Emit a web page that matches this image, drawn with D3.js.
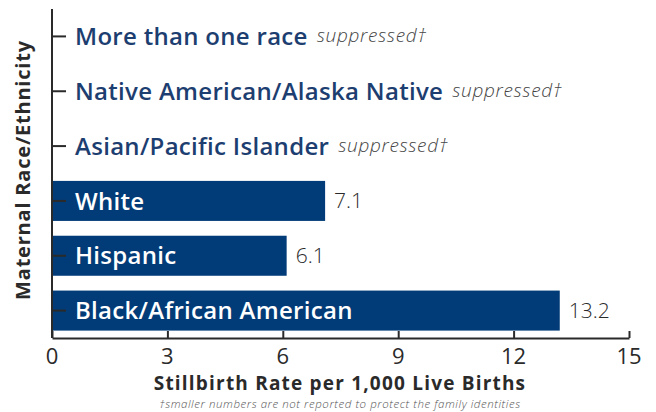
<!DOCTYPE html>
<html>
<head>
<meta charset="utf-8">
<script src="https://cdn.jsdelivr.net/npm/d3@7"></script>
<style>
  body { margin: 0; background: #fff; }
  svg text { font-family: "Open Sans", "Noto Sans", sans-serif; }
</style>
</head>
<body>
<svg id="chart" width="656" height="412"></svg>
<script>
// data
var categories = ["More than one race", "Native American/Alaska Native", "Asian/Pacific Islander",
                  "White", "Hispanic", "Black/African American"];
var rates = [null, null, null, 7.1, 6.1, 13.2];   // null = suppressed
var xTicks = [0, 3, 6, 9, 12, 15];

var svg = d3.select("#chart");
var barColor = "#023c78",
    navy = "#1d3e70",
    dark = "#2a2a2a";

var x = d3.scaleLinear().domain([0, 15]).range([52, 629]);
var y = d3.scaleBand().domain(categories).range([9, 338]).paddingInner(0.27).paddingOuter(0.135);

var rows = categories.map(function(c, i){ return {cat: c, v: rates[i]}; });

// bars
svg.selectAll("rect.bar")
  .data(rows.filter(function(d){ return d.v != null; }))
  .enter()
  .append("rect")
    .attr("class", "bar")
    .attr("x", x(0))
    .attr("y", function(d){ return y(d.cat); })
    .attr("width", function(d){ return x(d.v) - x(0); })
    .attr("height", y.bandwidth())
    .style("fill", barColor);

// category labels (white inside bars, navy for suppressed rows)
svg.selectAll("text.cat")
  .data(rows)
  .enter()
  .append("text")
    .attr("class", "cat")
    .attr("x", 75)
    .attr("y", function(d){ return y(d.cat) + y.bandwidth()/2; })
    .attr("dy", "0.36em")
    .style("font-size", "24px")
    .style("letter-spacing", "0.3px")
    .style("font-weight", 600)
    .style("fill", function(d){ return d.v == null ? navy : "#fff"; })
    .text(function(d){ return d.cat; })
    .each(function(d){ d.labelEnd = 75 + this.getComputedTextLength(); });

// value labels / suppressed notes
svg.selectAll("text.val")
  .data(rows)
  .enter()
  .append("text")
    .attr("class", "val")
    .attr("x", function(d){ return d.v == null ? d.labelEnd + 9 : x(d.v) + 9; })
    .attr("y", function(d){ return y(d.cat) + y.bandwidth()/2 + (d.v == null ? -1 : 0); })
    .attr("dy", "0.36em")
    .style("font-size", function(d){ return d.v == null ? "19px" : "21px"; })
    .style("letter-spacing", function(d){ return d.v == null ? "0.7px" : "0px"; })
    .style("font-style", function(d){ return d.v == null ? "italic" : "normal"; })
    .style("font-weight", 300)
    .style("fill", function(d){ return d.v == null ? "#444" : dark; })
    .text(function(d){ return d.v == null ? "suppressed\u2020" : d.v; });

// y axis: line with short ticks pointing into the plot
var yAxis = svg.append("g")
    .attr("transform", "translate(" + x(0) + ",0)")
    .call(d3.axisRight(y).tickSize(14).tickFormat(""));
yAxis.select(".domain").attr("d", "M0,9V338");
yAxis.selectAll("line, path").attr("stroke", dark).attr("stroke-width", 2);

// x axis: ticks point up
var xAxis = svg.append("g")
    .attr("transform", "translate(0,338)")
    .call(d3.axisTop(x).tickValues(xTicks).tickSize(7).tickSizeOuter(0).tickFormat(""));
xAxis.selectAll("line, path").attr("stroke", dark).attr("stroke-width", 2);

svg.selectAll("text.xt")
  .data(xTicks)
  .enter()
  .append("text")
    .attr("class", "xt")
    .attr("x", function(d){ return x(d); })
    .attr("y", 364)
    .attr("text-anchor", "middle")
    .style("font-size", "22px")
    .style("fill", dark)
    .text(function(d){ return d; });

// axis titles
svg.append("text")
    .attr("transform", "translate(30,170) rotate(-90)")
    .attr("text-anchor", "middle")
    .style("font-size", "20px")
    .style("letter-spacing", "0.8px")
    .style("font-weight", 700)
    .style("fill", dark)
    .text("Maternal Race/Ethnicity");

svg.append("text")
    .attr("x", 340)
    .attr("y", 390)
    .attr("text-anchor", "middle")
    .style("font-size", "19px")
    .style("letter-spacing", "1.2px")
    .style("font-weight", 700)
    .style("fill", dark)
    .text("Stillbirth Rate per 1,000 Live Births");

svg.append("text")
    .attr("x", 340)
    .attr("y", 408)
    .attr("text-anchor", "middle")
    .style("font-size", "11.5px")
    .style("letter-spacing", "0.55px")
    .style("font-style", "italic")
    .style("font-weight", 300)
    .style("fill", "#555")
    .text("\u2020smaller numbers are not reported to protect the family identities");
</script>
</body>
</html>
